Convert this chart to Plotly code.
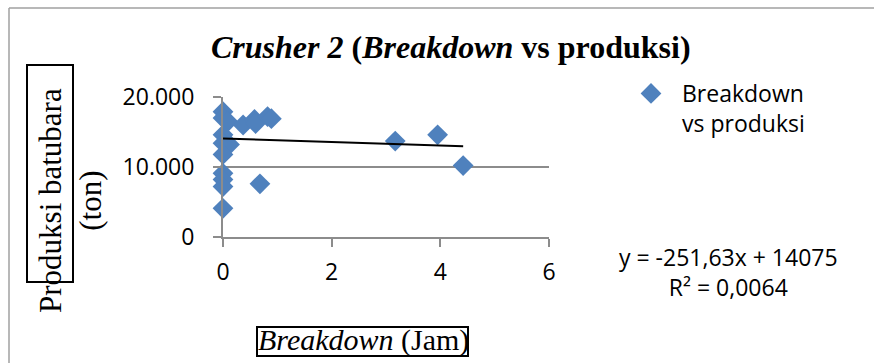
import plotly.graph_objects as go

# ---- data ----
breakdown_jam = [0, 0, 0.09, 0.37, 0.58, 0.60, 0.82, 0.89,
                 0, 0, 0.12, 0, 0, 0, 0, 0, 0.68,
                 3.17, 3.95, 4.42]
produksi_ton = [17900, 17000, 16500, 16000, 16800, 16200, 17200, 16900,
                14600, 13400, 13200, 11800, 9100, 8200, 7200, 4100, 7600,
                13700, 14600, 10200]
trend_slope = -251.63
trend_intercept = 14075
r_squared = 0.0064
x_tick_vals = [0, 2, 4, 6]
x_tick_text = ["0", "2", "4", "6"]
y_tick_vals = [0, 10000, 20000]
y_tick_text = ["0", "10.000", "20.000"]

W, H = 874, 363
L, R, T, B = 223, 325, 97, 126
pw, ph = W - L - R, H - T - B


def px(x):
    return (x - L) / pw


def py(y):
    return (H - B - y) / ph


trend_x = [0, max(breakdown_jam)]
trend_y = [trend_slope * v + trend_intercept for v in trend_x]

blue = "#4F81BD"
grid = "#8C8C8C"
calibri = "Open Sans"
times = "Liberation Serif, Times New Roman, serif"

fig = go.Figure()
fig.add_trace(go.Scatter(
    x=breakdown_jam, y=produksi_ton, mode="markers",
    name="Breakdown<br>vs produksi", cliponaxis=False,
    marker=dict(symbol="diamond", size=16, color=blue, line=dict(width=0)),
))
fig.add_trace(go.Scatter(
    x=trend_x, y=trend_y, mode="lines", showlegend=False, cliponaxis=False,
    line=dict(color="black", width=2),
))

eq_text = ("y = " + f"{trend_slope:.2f}".replace(".", ",") + "x + " + f"{trend_intercept:.0f}"
           + "<br>R² = " + f"{r_squared:.4f}".replace(".", ","))

fig.update_layout(
    width=W, height=H,
    margin=dict(l=L, r=R, t=T, b=B, pad=0),
    paper_bgcolor="white", plot_bgcolor="white",
    font=dict(family=calibri, size=23, color="black"),
    showlegend=True,
    legend=dict(
        xref="container", yref="container", x=620 / W, y=1 - 72 / H,
        xanchor="left", yanchor="top", valign="top",
        font=dict(family=calibri, size=23, color="black"),
        bgcolor="rgba(0,0,0,0)", itemwidth=52,
    ),
    xaxis=dict(
        range=[0, 6], tickvals=x_tick_vals, ticktext=x_tick_text,
        showgrid=False, zeroline=False,
        showline=True, linecolor=grid, linewidth=2,
        ticks="outside", ticklen=8, tickwidth=2, tickcolor=grid,
        ticklabelstandoff=5,
        tickfont=dict(family=calibri, size=23, color="black"),
    ),
    yaxis=dict(
        range=[0, 20000], tickvals=y_tick_vals, ticktext=y_tick_text,
        showgrid=True, gridcolor=grid, gridwidth=2, zeroline=False,
        showline=True, linecolor=grid, linewidth=2,
        ticks="outside", ticklen=8, tickwidth=2, tickcolor=grid,
        ticklabelstandoff=14,
        tickfont=dict(family=calibri, size=23, color="black"),
    ),
    shapes=[
        # outer chart border (left and top visible)
        dict(type="line", xref="paper", yref="paper", x0=px(9), x1=px(9), y0=py(8), y1=py(H + 5),
             line=dict(color="#A0A0A0", width=1.5)),
        dict(type="line", xref="paper", yref="paper", x0=px(9), x1=px(W + 5), y0=py(8), y1=py(8),
             line=dict(color="#A0A0A0", width=1.5)),
        # boxes around axis titles
        dict(type="rect", xref="paper", yref="paper", x0=px(27), x1=px(73), y0=py(282), y1=py(65),
             line=dict(color="black", width=2)),
        dict(type="rect", xref="paper", yref="paper", x0=px(257), x1=px(468), y0=py(356), y1=py(327),
             line=dict(color="black", width=2)),
    ],
    annotations=[
        dict(xref="paper", yref="paper", x=px(451), y=py(47), xanchor="center", yanchor="middle",
             text="<b><i>Crusher 2</i> (<i>Breakdown</i> vs produksi)</b>", showarrow=False,
             font=dict(family=times, size=32, color="black")),
        dict(xref="paper", yref="paper", x=px(70), y=py(201), xanchor="center", yanchor="middle",
             text="Produksi batubara<br>(ton)", textangle=-90, showarrow=False,
             font=dict(family=times, size=31, color="black")),
        dict(xref="paper", yref="paper", x=px(363), y=py(340), xanchor="center", yanchor="middle",
             text="<i>Breakdown</i> (Jam)", showarrow=False,
             font=dict(family=times, size=30, color="black")),
        dict(xref="paper", yref="paper", x=px(728), y=py(272), xanchor="center", yanchor="middle",
             text=eq_text, align="center", showarrow=False,
             font=dict(family=calibri, size=23, color="black")),
    ],
)

fig.write_html("out.html", config={"displayModeBar": False},
               post_script="document.body.style.margin='0';")
